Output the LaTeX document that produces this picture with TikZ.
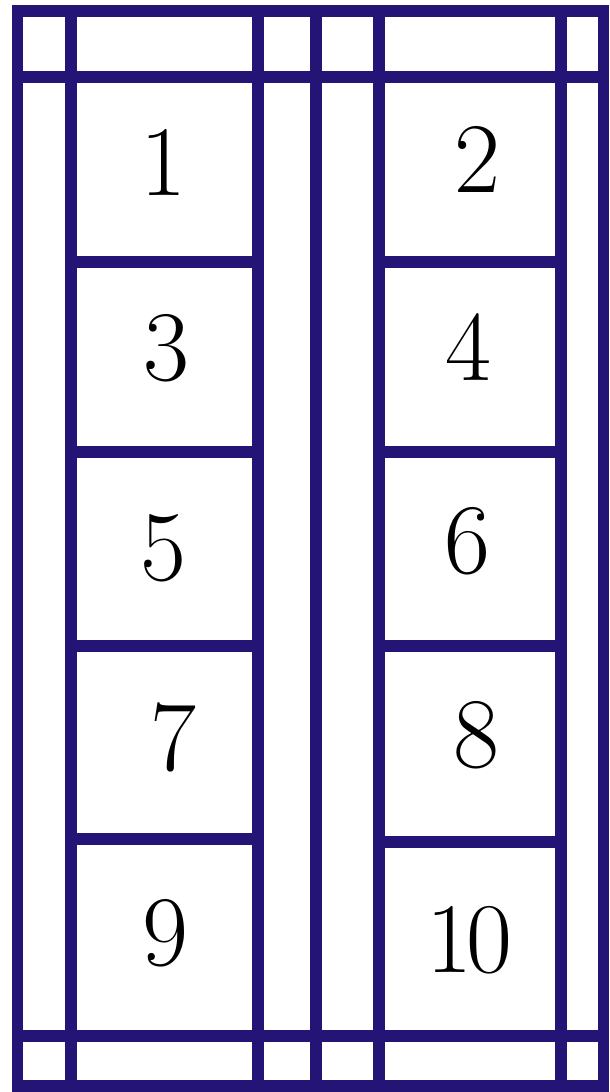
\documentclass[tikz,border=0pt]{standalone}
\definecolor{navy}{RGB}{36,20,118}
\begin{document}
\begin{tikzpicture}[x=1pt,y=-1pt,
  bar/.style={draw=navy,line width=11.5pt},
  num/.style={anchor=base,inner sep=0pt,font=\fontsize{100}{100}\selectfont}]
\useasboundingbox (0,0) rectangle (610,1092);
% full-height vertical bars
\foreach \x in {71,258,316,379,561}{\draw[bar] (\x,11) -- (\x,1086);}
% full-width horizontal bars
\foreach \y in {77,1036}{\draw[bar] (17.5,\y) -- (603.5,\y);}
% left column cell dividers
\foreach \y in {262,452,646,839}{\draw[bar] (71,\y) -- (258,\y);}
% right column cell dividers
\foreach \y in {262,452,646,842}{\draw[bar] (379,\y) -- (561,\y);}
% outer frame
\draw[bar] (17.5,11) rectangle (603.5,1086);
% numbers
\node[num] (n1) at (163,195) {1};
\node[num] (n2) at (477,192) {2};
\node[num] (n3) at (166,380) {3};
\node[num] (n4) at (468,380) {4};
\node[num] (n5) at (163,580) {5};
\node[num] (n6) at (467,573) {6};
\node[num] (n7) at (173,770) {7};
\node[num] (n8) at (476,767) {8};
\node[num] (n9) at (165,965) {9};
\node[num] (n10) at (469,972) {1\kern-6pt0};
\end{tikzpicture}
\end{document}
